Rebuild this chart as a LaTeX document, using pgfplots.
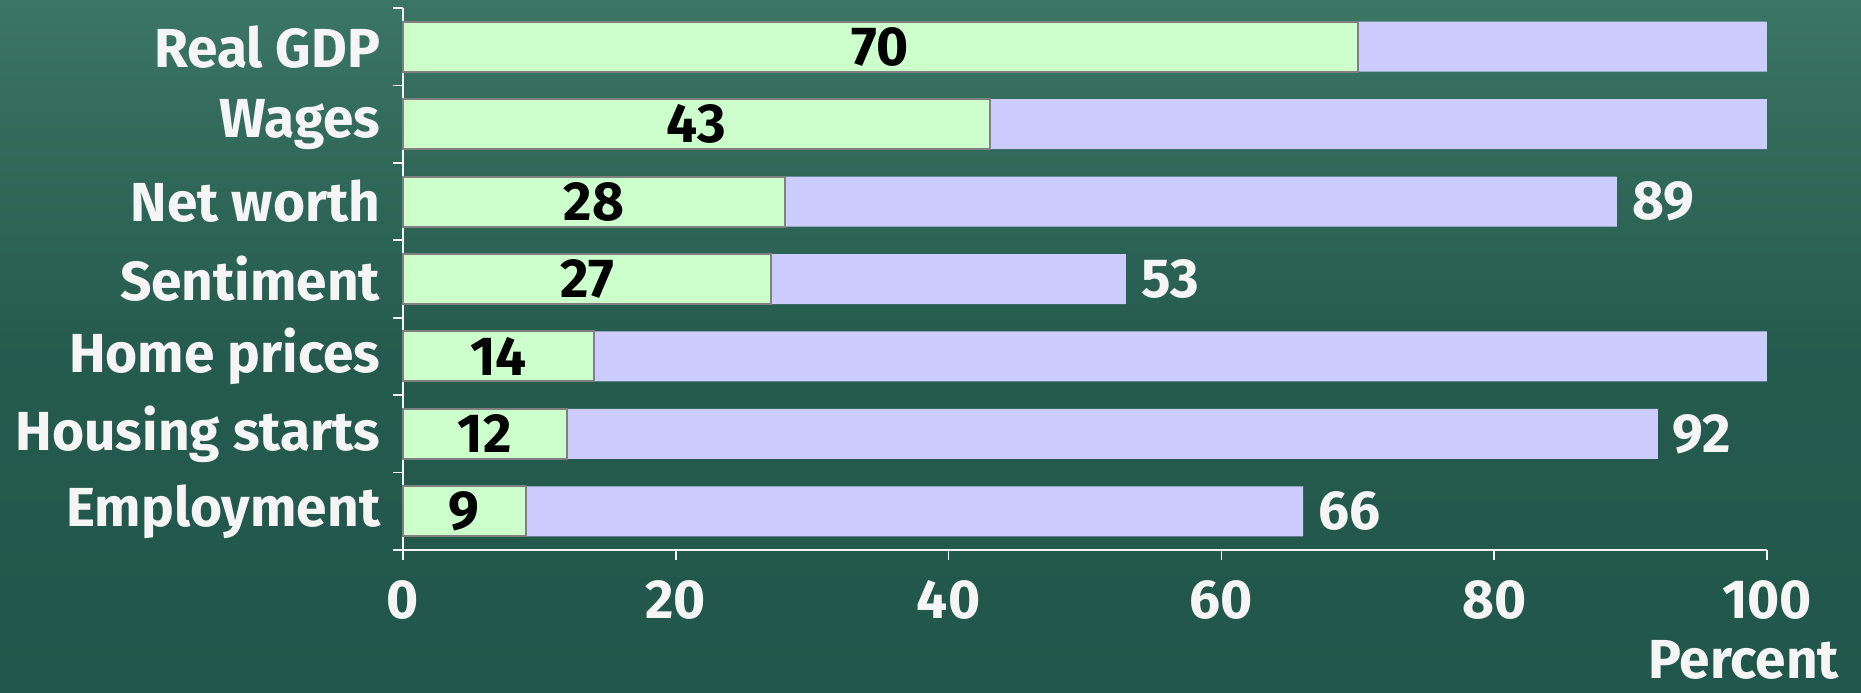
\documentclass[border=0pt]{standalone}
\usepackage{pgfplots}
\pgfplotsset{compat=1.18}
\usepackage{pgfplotstable}
\usepackage{fontspec}
\setmainfont{Fira Sans}

\definecolor{bgtop}{HTML}{3B7563}
\definecolor{bgbot}{HTML}{21574A}
\definecolor{barg}{HTML}{CCFFCC}
\definecolor{barb}{HTML}{CCCCFF}
\definecolor{txt}{HTML}{F5F5F5}

\newcommand{\lbl}{\bfseries\fontsize{16.5}{16.5}\selectfont}

% idx 6 = top row
\pgfplotstableread{
idx g  b
6   70 100
5   43 100
4   28 89
3   27 53
2   14 100
1   12 92
0   9  66
}\shares

\pgfplotstableread{
idx b
4   89
3   53
1   92
0   66
}\ends

\begin{document}
\begin{tikzpicture}[x=0.3pt,y=0.3pt]
\shade[top color=bgtop, bottom color=bgbot, middle color=bgbot!85!bgtop] (-403,-142) rectangle (1458,550);
\useasboundingbox (-403,-142) rectangle (1458,550);
\begin{axis}[at={(0pt,0pt)}, anchor=south west,
  scale only axis, width=409.2pt, height=162.6pt,
  xmin=0, xmax=100, ymin=-0.5, ymax=6.5,
  xbar, bar width=15pt, bar shift=0pt,
  /pgf/number format/assume math mode=true,
  axis x line*=bottom, axis y line*=left,
  axis line style={txt, line width=0.5pt, -},
  xtick={0,20,...,100}, tick style={txt, line width=0.5pt},
  x tick label style={font=\lbl, text=txt, yshift=-5pt, inner sep=1pt},
  major tick length=3pt, tick align=outside,
  ytick={-0.5,0.5,...,6.5}, yticklabels={},
  extra y ticks={0,...,6},
  extra y tick labels={Employment,Housing starts,Home prices,Sentiment,Net worth,Wages,Real GDP},
  extra y tick style={tick style={draw=none},
    y tick label style={font=\lbl, text=txt, xshift=-0.3pt}},
  xlabel={Percent},
  xlabel style={at={(rel axis cs:1,0)}, anchor=base, xshift=-7pt, yshift=-38.5pt,
    font=\lbl, text=txt, inner sep=1pt},
  clip=false,
]
\addplot[fill=barb, draw=none] table[x=b, y=idx] {\shares};
\addplot[fill=barg, draw=gray, line width=0.6pt] table[x=g, y=idx] {\shares};
% labels centred in the green bars
\addplot[draw=none, mark=none, xbar=0pt, fill=none,
  nodes near coords, point meta=explicit,
  every node near coord/.style={anchor=center, font=\lbl, text=black}]
  table[x expr=\thisrow{g}/2, y=idx, meta=g] {\shares};
% labels past the ends of the blue bars
\addplot[draw=none, mark=none, fill=none,
  nodes near coords, point meta=explicit,
  every node near coord/.style={anchor=west, xshift=1pt, font=\lbl, text=txt}]
  table[x=b, y=idx, meta=b] {\ends};
\end{axis}
\end{tikzpicture}
\end{document}
